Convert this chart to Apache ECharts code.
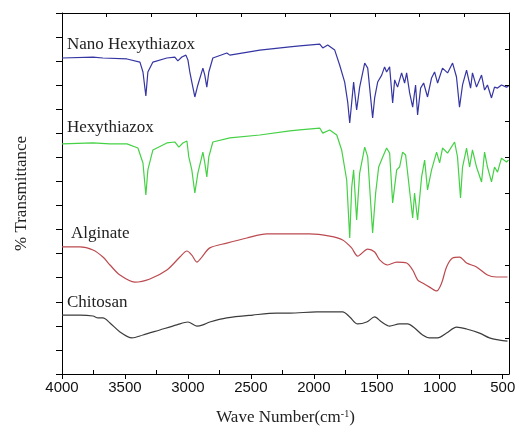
<!DOCTYPE html>
<html>
<head>
<meta charset="utf-8">
<title>FTIR spectra</title>
<script src="https://cdn.jsdelivr.net/npm/echarts@6.0.0/dist/echarts.min.js"></script>
<style>
  html, body { margin: 0; padding: 0; background: #fff; }
  #chart { width: 515px; height: 431px; }
</style>
</head>
<body>
<div id="chart"></div>
<script>
  // [wave number (cm-1), offset % transmittance]
  var nanoHexythiazox = [
    [4000, 131.3], [3754, 131.7], [3675, 131.3], [3484, 130.9], [3381, 129.6], [3357, 125.5],
    [3334, 115.5], [3318, 125.5], [3278, 129.6], [3167, 131.3], [3104, 131.7], [3080, 130.1],
    [3048, 131.7], [3016, 132.5], [3000, 130.5], [2985, 125.5], [2969, 121.3], [2945, 115.1],
    [2921, 120.1], [2881, 127.1], [2866, 124.2], [2850, 119.2], [2834, 125.5], [2802, 131.3],
    [2691, 133.4], [2667, 132.5], [2429, 134.6], [2191, 135.9], [2112, 136.3], [1953, 137.1],
    [1929, 135.5], [1890, 136.7], [1834, 134.6], [1795, 128.4], [1755, 121.3], [1731, 113.0],
    [1715, 104.3], [1692, 116.8], [1684, 121.3], [1660, 109.7], [1636, 119.2], [1596, 129.2],
    [1572, 127.1], [1533, 106.4], [1517, 114.7], [1493, 121.3], [1461, 124.2], [1438, 127.6],
    [1422, 125.5], [1398, 127.6], [1374, 112.6], [1358, 122.2], [1335, 119.2], [1303, 125.1],
    [1279, 120.9], [1263, 125.1], [1239, 116.8], [1215, 110.9], [1192, 120.1], [1176, 107.6],
    [1152, 118.8], [1128, 120.9], [1097, 115.1], [1065, 123.0], [1041, 125.5], [1017, 120.9],
    [978, 127.1], [938, 125.1], [898, 129.2], [867, 123.4], [843, 110.9], [819, 120.1],
    [787, 126.3], [755, 118.8], [740, 125.1], [708, 119.2], [668, 124.2], [644, 118.0],
    [621, 120.1], [589, 114.7], [565, 119.2], [541, 118.8], [510, 120.1], [470, 119.2], [454, 119.6]
  ];
  var hexythiazox = [
    [4000, 95.6], [3754, 96.0], [3619, 95.6], [3484, 95.6], [3397, 93.9], [3357, 87.7],
    [3334, 74.4], [3318, 84.8], [3278, 93.1], [3167, 96.0], [3104, 96.4], [3072, 94.3],
    [3040, 96.0], [3008, 96.8], [2993, 90.2], [2969, 84.8], [2945, 75.2], [2921, 83.5],
    [2881, 92.2], [2866, 87.7], [2850, 81.9], [2834, 90.2], [2802, 96.4], [2667, 98.1],
    [2429, 99.3], [2191, 101.0], [2112, 101.4], [1953, 102.2], [1929, 100.1], [1874, 101.4],
    [1818, 99.3], [1779, 93.1], [1739, 80.6], [1715, 56.5], [1699, 77.7], [1684, 84.8],
    [1660, 64.0], [1636, 83.5], [1596, 94.3], [1572, 90.2], [1533, 58.6], [1509, 75.2],
    [1485, 86.0], [1453, 90.2], [1422, 93.9], [1398, 91.8], [1374, 71.1], [1342, 84.8],
    [1319, 86.0], [1295, 92.2], [1271, 91.0], [1255, 83.5], [1215, 64.8], [1200, 75.2],
    [1176, 64.0], [1144, 81.9], [1120, 88.9], [1097, 76.5], [1065, 84.8], [1025, 92.2],
    [1001, 87.7], [978, 93.9], [938, 91.8], [882, 96.4], [859, 90.2], [835, 73.1],
    [819, 86.0], [787, 93.9], [763, 86.0], [740, 93.1], [708, 86.0], [668, 79.8],
    [644, 92.2], [621, 86.0], [589, 79.8], [565, 86.0], [541, 83.9], [510, 89.7],
    [470, 88.1], [454, 88.9]
  ];
  var alginate = [
    [4000, 52.8], [3857, 52.8], [3754, 51.5], [3675, 48.6], [3619, 45.3], [3540, 41.1],
    [3421, 38.2], [3302, 39.5], [3167, 43.2], [3064, 48.6], [3008, 51.1], [2969, 49.4],
    [2929, 46.5], [2889, 48.6], [2826, 52.4], [2691, 54.4], [2532, 56.5], [2374, 58.2],
    [2191, 58.2], [2033, 58.2], [1874, 57.3], [1771, 55.7], [1700, 52.4], [1652, 49.0],
    [1572, 51.9], [1517, 50.7], [1477, 47.4], [1414, 45.3], [1342, 46.5], [1263, 46.1],
    [1215, 43.2], [1176, 39.1], [1136, 37.8], [1081, 36.1], [1025, 34.5], [985, 37.8],
    [946, 44.5], [898, 48.2], [843, 48.6], [787, 46.1], [708, 44.5], [621, 41.1],
    [549, 40.3], [462, 40.3]
  ];
  var chitosan = [
    [4000, 24.5], [3857, 24.5], [3754, 24.1], [3714, 23.3], [3675, 23.3], [3619, 21.2],
    [3540, 17.5], [3445, 15.0], [3357, 16.2], [3223, 18.3], [3088, 20.4], [3000, 21.6],
    [2929, 19.9], [2881, 20.4], [2826, 21.6], [2691, 23.3], [2485, 24.5], [2294, 25.3],
    [2191, 25.3], [1977, 25.8], [1771, 25.8], [1715, 23.7], [1652, 20.8], [1580, 21.6],
    [1517, 23.7], [1461, 21.6], [1398, 19.9], [1319, 20.8], [1255, 20.8], [1200, 19.1],
    [1136, 16.2], [1081, 15.0], [1017, 15.0], [946, 17.0], [867, 19.5], [787, 18.7],
    [684, 17.0], [605, 15.0], [525, 14.1], [462, 13.7]
  ];
  var waveTicks = [4000, 3500, 3000, 2500, 2000, 1500, 1000, 500];
  var waveMinorTicks = [3750, 3250, 2750, 2250, 1750, 1250, 750];
  var traceNames = ['Nano Hexythiazox', 'Hexythiazox', 'Alginate', 'Chitosan'];

  var serif = '"Liberation Serif", "Times New Roman", serif';
  var sans = '"Liberation Sans", Arial, sans-serif';

  function trace(name, data, color, smooth) {
    return {
      name: name,
      type: 'line',
      data: data,
      showSymbol: false,
      smooth: smooth,
      lineStyle: {color: color, width: 1.2},
      itemStyle: {color: color},
      z: 3
    };
  }

  function label(text, left, top) {
    return {
      type: 'text',
      left: left,
      top: top,
      style: {text: text, font: '17px ' + serif, fill: '#222'}
    };
  }

  var chart = echarts.init(document.getElementById('chart'), null, {renderer: 'canvas'});
  chart.setOption({
    animation: false,
    backgroundColor: '#fff',
    grid: {left: 62, right: 6, top: 13, bottom: 57, containLabel: false, outerBoundsMode: 'none'},
    xAxis: [
      {
        type: 'value',
        inverse: true,
        min: 450,
        max: 4000,
        position: 'bottom',
        name: 'Wave Number(cm{sup|-1})',
        nameLocation: 'middle',
        nameGap: 35,
        nameTextStyle: {
          fontFamily: serif, fontSize: 17, color: '#222',
          rich: {sup: {fontFamily: serif, fontSize: 10, color: '#222', padding: [0, 0, 8, 0]}}
        },
        axisLine: {show: true, lineStyle: {color: '#000', width: 1}},
        axisTick: {show: true, inside: false, length: 5, customValues: waveTicks, lineStyle: {color: '#000'}},
        axisLabel: {
          show: true, customValues: waveTicks, fontFamily: sans, fontSize: 15, color: '#111', margin: 6,
          formatter: function (v) { return String(v); }
        },
        splitLine: {show: false}
      },
      {
        type: 'value',
        inverse: true,
        min: 450,
        max: 4000,
        position: 'bottom',
        axisLine: {show: false},
        axisTick: {show: true, inside: true, length: 4, customValues: waveMinorTicks, lineStyle: {color: '#000'}},
        axisLabel: {show: false},
        splitLine: {show: false}
      },
      {
        type: 'value',
        min: 0,
        max: 10,
        interval: 1,
        position: 'top',
        axisLine: {show: true, lineStyle: {color: '#000', width: 1}},
        axisTick: {show: true, inside: true, length: 4, lineStyle: {color: '#000'}},
        axisLabel: {show: false},
        splitLine: {show: false}
      }
    ],
    yAxis: [
      {
        type: 'value',
        min: 0,
        max: 150,
        interval: 10,
        position: 'left',
        name: '% Transmittance',
        nameLocation: 'middle',
        nameGap: 32,
        nameTextStyle: {fontFamily: serif, fontSize: 17, color: '#222'},
        axisLine: {show: true, lineStyle: {color: '#000', width: 1}},
        axisTick: {show: true, inside: false, length: 6, lineStyle: {color: '#000'}},
        axisLabel: {show: false},
        splitLine: {show: false}
      },
      {
        type: 'value',
        min: 0,
        max: 150,
        interval: 15,
        position: 'right',
        axisLine: {show: true, lineStyle: {color: '#000', width: 1}},
        axisTick: {show: true, inside: true, length: 4, lineStyle: {color: '#000'}},
        axisLabel: {show: false},
        splitLine: {show: false}
      }
    ],
    series: [
      trace(traceNames[0], nanoHexythiazox, '#3535a3', false),
      trace(traceNames[1], hexythiazox, '#45d145', false),
      trace(traceNames[2], alginate, '#bb4a50', 0.3),
      trace(traceNames[3], chitosan, '#3c3c3c', 0.3)
    ],
    graphic: [
      label(traceNames[0], 67, 36),
      label(traceNames[1], 67, 119),
      label(traceNames[2], 71, 225),
      label(traceNames[3], 67, 294)
    ]
  });
</script>
</body>
</html>
